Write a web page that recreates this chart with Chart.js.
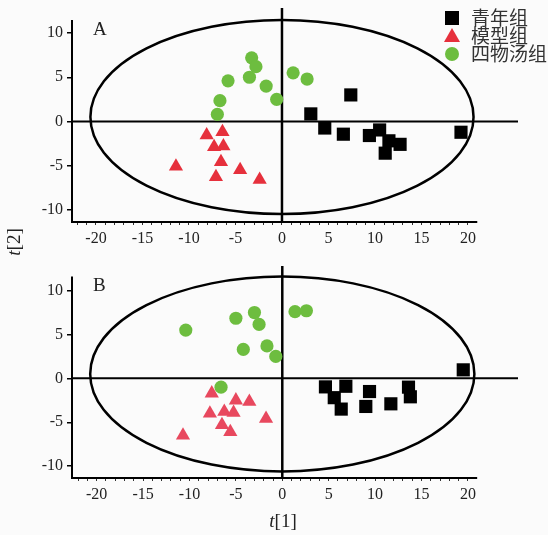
<!DOCTYPE html>
<html><head><meta charset="utf-8">
<script src="https://cdn.jsdelivr.net/npm/chart.js@4"></script>
<style>
html,body{margin:0;padding:0;background:#fbfbfb;}
#wrap{position:relative;width:548px;height:535px;}
canvas{position:absolute;left:0;}
#cA{top:0;}
#cB{top:258px;}
</style></head>
<body><div id="wrap"><canvas id="cA" width="548" height="255"></canvas><canvas id="cB" width="548" height="277"></canvas></div>
<script>
// ---- data ----
const groupNames = ['青年组', '模型组', '四物汤组'];
const yTickValues = [-10, -5, 0, 5, 10];
const xLabelValues = [-20, -15, -10, -5, 0, 5, 10, 15, 20];

// Panel A
const A_young_x = [3.1, 7.4, 4.6, 6.6, 9.4, 10.5, 11.5, 12.7, 11.1, 19.25];
const A_young_y = [0.85, 3.0, -0.75, -1.45, -1.6, -0.97, -2.2, -2.6, -3.6, -1.23];
const A_model_x = [-8.1, -6.4, -7.3, -6.3, -6.56, -11.4, -7.1, -4.5, -2.4];
const A_model_y = [-1.56, -1.2, -2.9, -2.8, -4.6, -5.1, -6.3, -5.5, -6.6];
const A_swt_x = [-3.26, -2.8, -5.8, -3.5, -1.7, -0.57, -6.67, -6.95, 1.2, 2.7];
const A_swt_y = [7.2, 6.2, 4.6, 5.0, 4.0, 2.5, 2.35, 0.8, 5.5, 4.8];

// Panel B
const B_young_x = [19.5, 4.65, 6.85, 5.6, 6.35, 9.4, 9.0, 11.7, 13.6, 13.8];
const B_young_y = [0.97, -0.97, -0.9, -2.2, -3.5, -1.5, -3.2, -2.9, -1.0, -2.1];
const B_model_x = [-7.6, -5.0, -3.55, -7.8, -6.25, -5.25, -1.75, -6.5, -5.6, -10.7];
const B_model_y = [-1.7, -2.5, -2.65, -4.0, -3.8, -3.9, -4.6, -5.3, -6.1, -6.5];
const B_swt_x = [-10.4, -5.0, -3.0, -2.5, -4.2, -1.65, -0.7, -6.6, 1.37, 2.6];
const B_swt_y = [5.5, 6.85, 7.5, 6.15, 3.3, 3.7, 2.5, -1.0, 7.6, 7.7];

// Hotelling T2 ellipse (centre and semi-axes in score units)
const ellipseA = {cx: 0, cy: 0.5, a: 20.6, b: 11.0};
const ellipseB = {cx: 0, cy: 0.5, a: 20.7, b: 11.1};

const COL_BLACK = '#000000';
const COL_RED_A = '#e6303c';
const COL_RED_B = '#e8485e';
const COL_GREEN = '#6dbd3f';

function pts(xs, ys) { return xs.map((x, i) => ({x: x, y: ys[i]})); }

function makeChart(id, cfg) {
  const ds = [
    {label: groupNames[0], data: pts(cfg.yx, cfg.yy), pointStyle: 'rect', pointRadius: 9.3, backgroundColor: COL_BLACK, borderColor: COL_BLACK, borderWidth: 0},
    {label: groupNames[1], data: pts(cfg.mx, cfg.my), pointStyle: 'triangle', pointRadius: 8.2, backgroundColor: cfg.red, borderColor: cfg.red, borderWidth: 0},
    {label: groupNames[2], data: pts(cfg.sx, cfg.sy), pointStyle: 'circle', pointRadius: 6.6, backgroundColor: COL_GREEN, borderColor: COL_GREEN, borderWidth: 0}
  ];
  const deco = {
    id: 'deco',
    beforeDatasetsDraw(chart) {
      const c = chart.ctx, xs = chart.scales.x, ys = chart.scales.y, ca = chart.chartArea;
      c.save();
      c.strokeStyle = '#000';
      // zero lines
      c.lineWidth = 2;
      const y0 = ys.getPixelForValue(0), x0 = xs.getPixelForValue(0);
      c.beginPath(); c.moveTo(ca.left, y0); c.lineTo(ca.right, y0); c.stroke();
      c.lineWidth = 2.5;
      c.beginPath(); c.moveTo(x0, ca.top); c.lineTo(x0, ca.bottom); c.stroke();
      // axes
      c.lineWidth = 2;
      c.beginPath();
      c.moveTo(ca.left, ys.getPixelForValue(cfg.axisTop));
      c.lineTo(ca.left, ca.bottom);
      c.lineTo(xs.getPixelForValue(cfg.axisRight), ca.bottom);
      c.stroke();
      // ellipse
      const e = cfg.ell;
      const ex = xs.getPixelForValue(e.cx), ey = ys.getPixelForValue(e.cy);
      const rx = Math.abs(xs.getPixelForValue(e.cx + e.a) - ex);
      const ry = Math.abs(ys.getPixelForValue(e.cy + e.b) - ey);
      c.lineWidth = 2.5;
      c.beginPath(); c.ellipse(ex, ey, rx, ry, 0, 0, Math.PI * 2); c.stroke();
      // panel letter
      c.fillStyle = '#222';
      c.font = '19px "Liberation Serif"';
      c.textBaseline = 'middle';
      c.textAlign = 'left';
      c.fillText(cfg.letter, cfg.letterX, cfg.letterY);
      c.restore();
    },
    afterDraw(chart) {
      const c = chart.ctx;
      c.save();
      c.fillStyle = '#222';
      c.textBaseline = 'middle';
      if (cfg.legend) {
        const lx = 452, rows = [18, 36, 54];
        c.fillStyle = COL_BLACK; c.fillRect(lx - 7, rows[0] - 7, 14, 14);
        c.fillStyle = COL_RED_A; c.beginPath();
        c.moveTo(lx, rows[1] - 8); c.lineTo(lx + 8, rows[1] + 6); c.lineTo(lx - 8, rows[1] + 6); c.closePath(); c.fill();
        c.fillStyle = COL_GREEN; c.beginPath(); c.arc(lx, rows[2], 7, 0, Math.PI * 2); c.fill();
        c.fillStyle = '#333';
        c.font = '19px "Noto Sans CJK SC"';
        c.textAlign = 'left';
        groupNames.forEach((n, i) => c.fillText(n, 471, rows[i]));
      }
      if (cfg.ylabel) {
        c.save();
        c.translate(15, 242);
        c.rotate(-Math.PI / 2);
        c.fillStyle = '#222';
        c.textAlign = 'left';
        c.font = 'italic 19px "Liberation Serif"';
        const w1 = c.measureText('t').width;
        c.font = '19px "Liberation Serif"';
        const w2 = c.measureText('[2]').width;
        const start = -(w1 + w2) / 2;
        c.font = 'italic 19px "Liberation Serif"';
        c.fillText('t', start, 0);
        c.font = '19px "Liberation Serif"';
        c.fillText('[2]', start + w1, 0);
        c.restore();
      }
      if (cfg.xlabel) {
        c.fillStyle = '#222';
        c.textAlign = 'left';
        c.font = 'italic 19px "Liberation Serif"';
        const w1 = c.measureText('t').width;
        c.font = '19px "Liberation Serif"';
        const w2 = c.measureText('[1]').width;
        const cx = 283, cy = cfg.xlabelY;
        const start = cx - (w1 + w2) / 2;
        c.font = 'italic 19px "Liberation Serif"';
        c.fillText('t', start, cy);
        c.font = '19px "Liberation Serif"';
        c.fillText('[1]', start + w1, cy);
      }
      c.restore();
    }
  };
  return new Chart(document.getElementById(id), {
    type: 'scatter',
    data: {datasets: ds},
    options: {
      responsive: false, animation: false, devicePixelRatio: 1,
      layout: {autoPadding: false, padding: {left: 0, top: cfg.padTop, right: 30, bottom: 0}},
      plugins: {legend: {display: false}, tooltip: {enabled: false}},
      scales: {
        x: {
          type: 'linear', min: cfg.xmin, max: cfg.xmax,
          afterBuildTicks(s) {
            const t = [];
            for (let v = -22; v <= 20; v++) t.push({value: v});
            s.ticks = t;
          },
          afterFit(s) { s.height = cfg.xh; },
          border: {display: false},
          grid: {display: true, drawOnChartArea: false, drawTicks: true, tickLength: 3, tickColor: '#333', lineWidth: 1},
          ticks: {
            autoSkip: false, maxRotation: 0, color: '#222', padding: 4,
            font: {family: 'Liberation Serif', size: 16},
            callback: v => xLabelValues.includes(v) ? String(v) : ''
          }
        },
        y: {
          type: 'linear', min: cfg.ymin, max: cfg.ymax,
          afterBuildTicks(s) { s.ticks = yTickValues.map(v => ({value: v})); },
          afterFit(s) { s.width = 72; },
          border: {display: false},
          grid: {display: true, drawOnChartArea: false, drawTicks: true, tickLength: 5, tickColor: '#000', lineWidth: 1.5},
          ticks: {color: '#222', padding: 4, font: {family: 'Liberation Serif', size: 16, lineHeight: 0.5}}
        }
      }
    },
    plugins: [deco]
  });
}

makeChart('cA', {
  yx: A_young_x, yy: A_young_y, mx: A_model_x, my: A_model_y, sx: A_swt_x, sy: A_swt_y,
  red: COL_RED_A, ell: ellipseA, letter: 'A', letterX: 93, letterY: 30,
  xmin: -22.58, xmax: 25.38, ymin: -11.4, ymax: 12.85, padTop: 5, xh: 33,
  axisTop: 11.5, axisRight: 21.0, legend: true, ylabel: true, xlabel: false
});
makeChart('cB', {
  yx: B_young_x, yy: B_young_y, mx: B_model_x, my: B_model_y, sx: B_swt_x, sy: B_swt_y,
  red: COL_RED_B, ell: ellipseB, letter: 'B', letterX: 93, letterY: 28,
  xmin: -22.66, xmax: 25.4, ymin: -11.35, ymax: 12.8, padTop: 5, xh: 57,
  axisTop: 11.6, axisRight: 21.0, legend: false, ylabel: false, xlabel: true, xlabelY: 264
});
</script>
</body></html>
